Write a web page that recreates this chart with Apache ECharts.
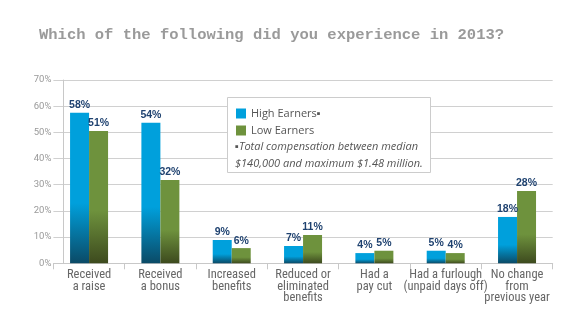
<!DOCTYPE html>
<html><head><meta charset="utf-8">
<script src="https://cdn.jsdelivr.net/npm/echarts@6/dist/echarts.min.js"></script>
<style>html,body{margin:0;padding:0;background:#fff}#c{width:580px;height:325px}</style>
</head><body><div id="c"></div>
<script>
var titleText = 'Which of the following did you experience in 2013?';
var categories = ['Received\na raise', 'Received\na bonus', 'Increased\nbenefits', 'Reduced or\neliminated\nbenefits', 'Had a\npay cut', 'Had a furlough\n(unpaid days off)', 'No change\nfrom\nprevious year'];
var seriesNames = ['High Earners\u25aa', 'Low Earners'];
var highEarners = [57.5, 53.7, 8.9, 6.6, 3.9, 4.8, 17.7];
var lowEarners = [50.5, 31.8, 5.8, 10.8, 4.8, 3.9, 27.6];
var yTicks = [0, 10, 20, 30, 40, 50, 60, 70];
var noteLines = ['\u25aaTotal compensation between median', '$140,000 and maximum $1.48 million.'];

var chart = echarts.init(document.getElementById('c'));
function grad(top, bottom) {
  return new echarts.graphic.LinearGradient(0, 0, 0, 1, [
    {offset: 0, color: top}, {offset: 0.6, color: top}, {offset: 1, color: bottom}]);
}
var labelStyle = {
  show: true, position: 'top', distance: 2,
  fontFamily: 'Liberation Sans', fontWeight: 'bold', fontSize: 10.5, color: '#1f4270',
  formatter: function (p) { return Math.round(p.value) + '%'; }
};
chart.setOption({
  animation: false,
  title: {
    text: titleText, left: 34, top: 22,
    textStyle: {fontFamily: 'Liberation Mono', fontWeight: 'bold', fontSize: 15.5, color: '#9a9a9a'}
  },
  grid: {left: 53.4, right: 27.3, top: 80, bottom: 61.7},
  legend: {
    orient: 'vertical', left: 231, top: 103, itemWidth: 10, itemHeight: 10, itemGap: 6, z: 20,
    textStyle: {fontFamily: 'Open Sans', fontSize: 11, color: '#555'},
    data: [
      {name: seriesNames[0], icon: 'rect', itemStyle: {color: '#00a0dc'}},
      {name: seriesNames[1], icon: 'rect', itemStyle: {color: '#6e923d'}}
    ]
  },
  graphic: [
    {type: 'rect', z: 10, shape: {x: 227.5, y: 97.5, width: 203, height: 75},
     style: {fill: '#fff', stroke: '#cccccc', lineWidth: 1}},
    {type: 'text', z: 11, x: 235, y: 138,
     style: {text: noteLines.join('\n'), font: 'italic 11px "Open Sans"', fill: '#555', lineHeight: 17}}
  ],
  xAxis: {
    type: 'category', data: categories,
    axisLine: {show: true, lineStyle: {color: '#c8c8c8'}},
    axisTick: {show: true, length: 6, lineStyle: {color: '#c8c8c8'}},
    axisLabel: {interval: 0, margin: 6, fontFamily: 'Liberation Sans Narrow, Roboto Condensed, Roboto', fontSize: 12.5, lineHeight: 11.5, color: '#666'}
  },
  yAxis: {
    type: 'value', min: 0, max: 70, interval: 10, offset: -10,
    axisLine: {show: true, lineStyle: {color: '#c8c8c8'}},
    axisTick: {show: false},
    splitLine: {lineStyle: {color: '#d0d0d0'}},
    axisLabel: {margin: 12, fontFamily: 'Liberation Sans Narrow, Roboto', fontSize: 9.5, color: '#999',
      formatter: function (v) { return yTicks.indexOf(v) >= 0 ? v + '%' : ''; }}
  },
  series: [
    {name: seriesNames[0], type: 'bar', data: highEarners, barWidth: 19, barGap: '0%',
     itemStyle: {color: grad('#00a0dc', '#0b4a66')}, label: labelStyle},
    {name: seriesNames[1], type: 'bar', data: lowEarners, barWidth: 19,
     itemStyle: {color: grad('#6e923d', '#3d4a1e')}, label: labelStyle}
  ]
});
</script></body></html>
